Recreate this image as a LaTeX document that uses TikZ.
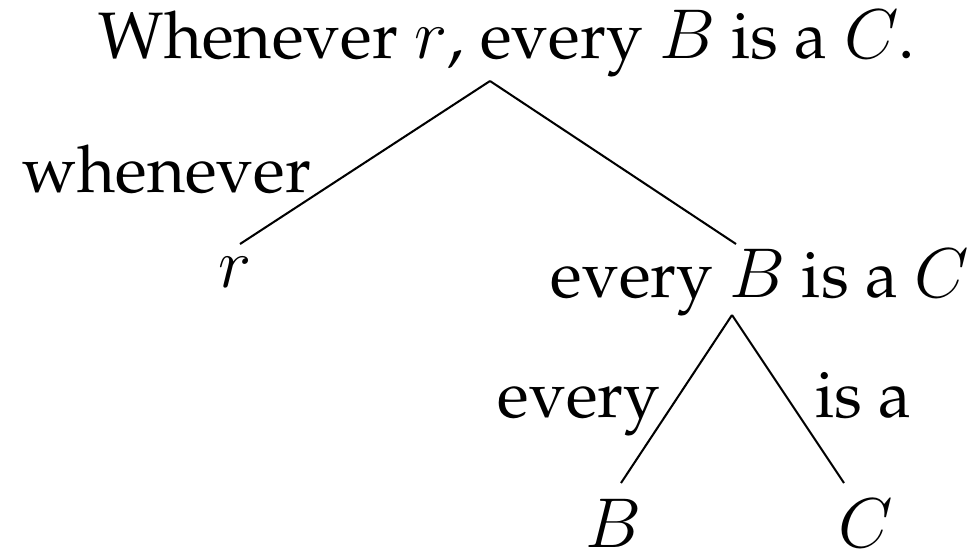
\documentclass[tikz,border=0pt]{standalone}
\usepackage[T1]{fontenc}
\usepackage{palatino}
\begin{document}
\begin{tikzpicture}[x=0.294pt,y=-0.294pt,
  lab/.style={inner sep=0pt,anchor=base west,font=\fontsize{19.3}{23}\selectfont},
  edge/.style={line width=0.6pt}]
\useasboundingbox (0,0) rectangle (967,553);
\node[lab] (top) at (98,58) {Whenever $r$, every $B$ is a $C$.};
\node[lab] (wh) at (22,192) {whenever};
\node[lab] (r) at (218,287) {$r$};
\node[lab] (mid) at (550,297) {every $B$ is a $C$};
\node[lab] (ev) at (497,417) {every};
\node[lab] (isa) at (815,417) {is a};
\node[lab] (b) at (585,547) {$B$};
\node[lab] (c) at (838,547) {$C$};
\coordinate (topA) at (490,81);
\coordinate (rA) at (240,244);
\coordinate (midA) at (736,244);
\coordinate (midB) at (732,315);
\coordinate (bA) at (621,483);
\coordinate (cA) at (844,483);
\draw[edge] (topA) -- (rA);
\draw[edge] (topA) -- (midA);
\draw[edge] (midB) -- (bA);
\draw[edge] (midB) -- (cA);
\end{tikzpicture}
\end{document}
